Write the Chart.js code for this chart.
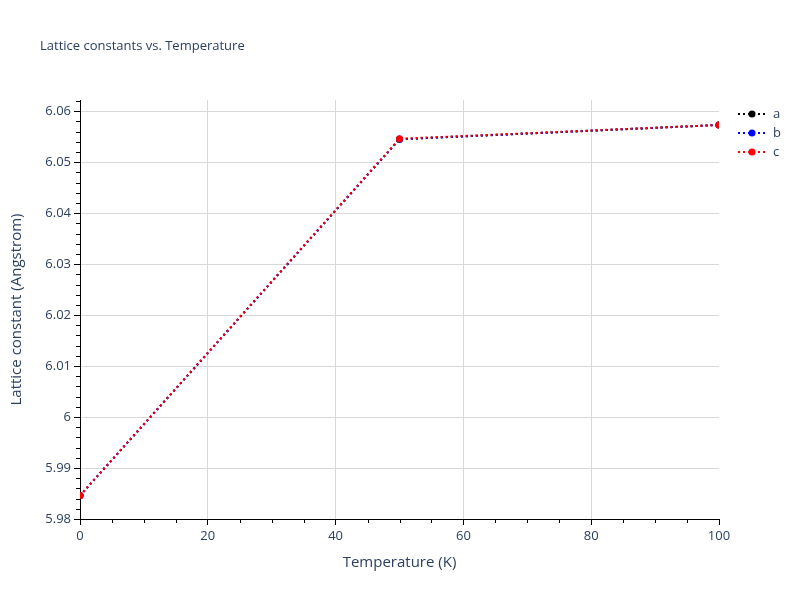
<!DOCTYPE html>
<html>
<head>
<meta charset="utf-8">
<script src="https://cdn.jsdelivr.net/npm/chart.js@4"></script>
<style>
html,body{margin:0;padding:0;background:#fff;}
#wrap{width:800px;height:600px;}
</style>
</head>
<body>
<div id="wrap"><canvas id="c" width="800" height="600"></canvas></div>
<script>
const temperatures = [0, 50, 100];
const seriesNames = ['a', 'b', 'c'];
const seriesA = [5.9846, 6.0545, 6.0573];
const seriesB = [5.9846, 6.0545, 6.0573];
const seriesC = [5.9846, 6.0546, 6.0573];
const seriesColors = ['#000000', '#0000ff', '#ff0000'];
const chartTitle = 'Lattice constants vs. Temperature';
const xTitle = 'Temperature (K)';
const yTitle = 'Lattice constant (Angstrom)';

const textColor = '#2a3f5f';
const fontFam = '"Open Sans", Verdana, Arial, sans-serif';

function mk(vals, i, order) {
  return {
    label: seriesNames[i],
    data: temperatures.map((t, k) => ({x: t, y: vals[k]})),
    borderColor: seriesColors[i],
    backgroundColor: seriesColors[i],
    borderWidth: 2,
    borderDash: [2, 3],
    pointRadius: 3.5,
    pointHoverRadius: 3.5,
    pointBorderWidth: 0,
    tension: 0,
    order: order
  };
}

const extras = {
  id: 'extras',
  afterDraw(chart) {
    const ctx = chart.ctx;
    const xs = chart.scales.x, ys = chart.scales.y;
    const area = chart.chartArea;
    ctx.save();
    // minor ticks
    ctx.strokeStyle = '#000';
    ctx.lineWidth = 1;
    for (let v = 0; v <= 100.0001; v += 5) {
      if (Math.abs(v % 20) < 1e-6) continue;
      const px = Math.round(xs.getPixelForValue(v)) + 0.5;
      ctx.beginPath(); ctx.moveTo(px, area.bottom); ctx.lineTo(px, area.bottom + 4); ctx.stroke();
    }
    for (let k = 0; k <= 41; k++) {
      if (k % 5 === 0) continue;
      const v = 5.98 + k * 0.002;
      if (v > ys.max + 1e-9) break;
      const py = Math.round(ys.getPixelForValue(v)) + 0.5;
      ctx.beginPath(); ctx.moveTo(area.left, py); ctx.lineTo(area.left - 4, py); ctx.stroke();
    }
    // title
    ctx.fillStyle = textColor;
    ctx.font = '13px ' + fontFam;
    ctx.textAlign = 'left';
    ctx.textBaseline = 'middle';
    ctx.fillText(chartTitle, 40, 46);
    // legend
    chart.data.datasets.forEach((ds, i) => {
      const y = 114 + i * 19;
      ctx.strokeStyle = ds.borderColor;
      ctx.lineWidth = 2;
      ctx.setLineDash([2, 3]);
      ctx.beginPath(); ctx.moveTo(738, y); ctx.lineTo(767, y); ctx.stroke();
      ctx.setLineDash([]);
      ctx.fillStyle = ds.backgroundColor;
      ctx.beginPath(); ctx.arc(752, y, 3.5, 0, Math.PI * 2); ctx.fill();
      ctx.fillStyle = textColor;
      ctx.font = '13px ' + fontFam;
      ctx.fillText(ds.label, 773, y);
    });
    ctx.restore();
  }
};

new Chart(document.getElementById('c'), {
  type: 'line',
  data: {
    datasets: [mk(seriesA, 0, 2), mk(seriesB, 1, 1), mk(seriesC, 2, 0)]
  },
  options: {
    responsive: false,
    animation: false,
    events: [],
    layout: {padding: {top: 100, right: 81, left: 0, bottom: 0}},
    plugins: {legend: {display: false}, title: {display: false}, tooltip: {enabled: false}},
    scales: {
      x: {
        type: 'linear',
        min: 0, max: 100,
        afterFit: s => { s.height = 81; },
        border: {display: true, color: '#000', width: 1},
        grid: {color: c => (c.tick && c.tick.value > 0 && c.tick.value < 100) ? '#d8d8d8' : 'rgba(0,0,0,0)', tickColor: '#000', tickLength: 6, drawTicks: true},
        ticks: {stepSize: 20, color: textColor, font: {size: 13, family: fontFam}, padding: 3, maxRotation: 0},
        title: {display: true, text: xTitle, color: textColor, font: {size: 15, family: fontFam}, padding: {bottom: 28, top: 0}}
      },
      y: {
        type: 'linear',
        min: 5.98, max: 6.0622,
        afterFit: s => { s.width = 80; },
        border: {display: true, color: '#000', width: 1},
        grid: {color: '#d8d8d8', tickColor: '#000', tickLength: 6, drawTicks: true},
        ticks: {stepSize: 0.01, includeBounds: false, color: textColor, font: {size: 13, family: fontFam}, padding: 3,
          callback: v => parseFloat(v.toFixed(2)).toString()},
        title: {display: true, text: yTitle, color: textColor, font: {size: 15, family: fontFam}, padding: {top: 8, bottom: 0}}
      }
    }
  },
  plugins: [extras]
});
</script>
</body>
</html>
